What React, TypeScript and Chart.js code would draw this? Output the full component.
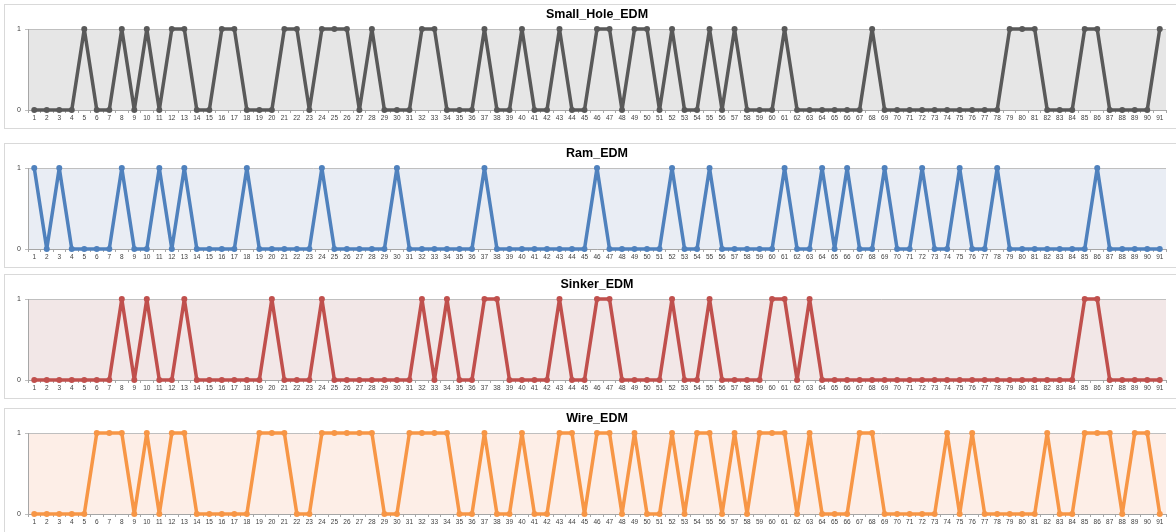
import React, { useEffect, useRef } from "react";
import { Chart, registerables } from "chart.js";
Chart.register(...registerables);

const categories = [
  "1","2","3","4","5","6","7","8","9","10","11","12","13","14","15","16","17","18","19","20",
  "21","22","23","24","25","26","27","28","29","30","31","32","33","34","35","36","37","38","39","40",
  "41","42","43","44","45","46","47","48","49","50","51","52","53","54","55","56","57","58","59","60",
  "61","62","63","64","65","66","67","68","69","70","71","72","73","74","75","76","77","78","79","80",
  "81","82","83","84","85","86","87","88","89","90","91",
];

const smallHoleEDM = [
  0,0,0,0,1,0,0,1,0,1, 0,1,1,0,0,1,1,0,0,0, 1,1,0,1,1,1,0,1,0,0, 0,1,1,0,0,0,1,0,0,1,
  0,0,1,0,0,1,1,0,1,1, 0,1,0,0,1,0,1,0,0,0, 1,0,0,0,0,0,0,1,0,0, 0,0,0,0,0,0,0,0,1,1,
  1,0,0,0,1,1,0,0,0,0, 1,
];
const ramEDM = [
  1,0,1,0,0,0,0,1,0,0, 1,0,1,0,0,0,0,1,0,0, 0,0,0,1,0,0,0,0,0,1, 0,0,0,0,0,0,1,0,0,0,
  0,0,0,0,0,1,0,0,0,0, 0,1,0,0,1,0,0,0,0,0, 1,0,0,1,0,1,0,0,1,0, 0,1,0,0,1,0,0,1,0,0,
  0,0,0,0,0,1,0,0,0,0, 0,
];
const sinkerEDM = [
  0,0,0,0,0,0,0,1,0,1, 0,0,1,0,0,0,0,0,0,1, 0,0,0,1,0,0,0,0,0,0, 0,1,0,1,0,0,1,1,0,0,
  0,0,1,0,0,1,1,0,0,0, 0,1,0,0,1,0,0,0,0,1, 1,0,1,0,0,0,0,0,0,0, 0,0,0,0,0,0,0,0,0,0,
  0,0,0,0,1,1,0,0,0,0, 0,
];
const wireEDM = [
  0,0,0,0,0,1,1,1,0,1, 0,1,1,0,0,0,0,0,1,1, 1,0,0,1,1,1,1,1,0,0, 1,1,1,1,0,0,1,0,0,1,
  0,0,1,1,0,1,1,0,1,0, 0,1,0,1,1,0,1,0,1,1, 1,0,1,0,0,0,1,1,0,0, 0,0,0,1,0,1,0,0,0,0,
  0,1,0,0,1,1,1,0,1,1, 0,
];
const yTicks = [0, 1];

const titles = ["Small_Hole_EDM", "Ram_EDM", "Sinker_EDM", "Wire_EDM"];
const seriesList = [smallHoleEDM, ramEDM, sinkerEDM, wireEDM];
const lineColors = ["#595959", "#4f81bd", "#c0504d", "#f79646"];
const plotBgs = ["#e6e6e6", "#e9edf4", "#f2e7e7", "#fdeee7"];
const panelTops = [4, 143, 274, 408];

const PANEL_W = 1180;
const PANEL_H = 125;
const CANVAS_W = 1171;
const CANVAS_H = 123;

function Panel({ idx }: { idx: number }) {
  const ref = useRef<HTMLCanvasElement | null>(null);
  useEffect(() => {
    if (!ref.current) return;
    const title = titles[idx];
    const bg = plotBgs[idx];
    const decor = {
      id: "decor" + idx,
      beforeDraw(chart: any) {
        const { ctx, chartArea } = chart;
        ctx.save();
        ctx.fillStyle = bg;
        ctx.fillRect(chartArea.left, chartArea.top, chartArea.right - chartArea.left, chartArea.bottom - chartArea.top);
        ctx.restore();
      },
      afterDraw(chart: any) {
        const { ctx, chartArea } = chart;
        ctx.save();
        ctx.fillStyle = "#000000";
        ctx.font = "bold 12.5px 'Liberation Sans', Arial, sans-serif";
        ctx.textAlign = "center";
        ctx.textBaseline = "middle";
        ctx.fillText(title, (chartArea.left + chartArea.right) / 2, 10);
        ctx.restore();
      },
    };
    const chart = new Chart(ref.current, {
      type: "line",
      data: {
        labels: categories,
        datasets: [
          {
            label: title,
            data: seriesList[idx],
            borderColor: lineColors[idx],
            backgroundColor: lineColors[idx],
            borderWidth: 3.5,
            borderJoinStyle: "round",
            borderCapStyle: "round",
            pointRadius: 3,
            pointHoverRadius: 3,
            pointBorderWidth: 0,
            tension: 0,
            fill: false,
            clip: false,
          },
        ],
      },
      options: {
        animation: false,
        responsive: false,
        maintainAspectRatio: false,
        events: [],
        layout: { padding: { top: 24, right: 10, left: 0, bottom: 0 } },
        plugins: {
          legend: { display: false },
          title: { display: false },
          tooltip: { enabled: false },
        },
        scales: {
          x: {
            type: "category",
            offset: true,
            afterFit(s: any) {
              s.height = 18;
            },
            grid: {
              display: true,
              offset: true,
              drawOnChartArea: false,
              drawTicks: true,
              tickLength: 3,
              color: "#a6a6a6",
            },
            border: { display: true, color: "#a6a6a6", width: 1 },
            ticks: {
              autoSkip: false,
              maxRotation: 0,
              minRotation: 0,
              padding: 1,
              color: "#404040",
              font: { size: 6.5, family: "'Liberation Sans', Arial, sans-serif" },
            },
          },
          y: {
            min: 0,
            max: 1,
            afterFit(s: any) {
              s.width = 23;
            },
            afterBuildTicks(s: any) {
              s.ticks = yTicks.map((v) => ({ value: v }));
            },
            grid: {
              display: true,
              color: "#bfbfbf",
              drawTicks: true,
              tickLength: 3,
              lineWidth: 1,
            },
            border: { display: true, color: "#a6a6a6", width: 1 },
            ticks: {
              padding: 4,
              color: "#404040",
              font: { size: 7, family: "'Liberation Sans', Arial, sans-serif" },
            },
          },
        },
      },
      plugins: [decor],
    } as any);
    return () => chart.destroy();
  }, [idx]);

  return (
    <div
      style={{
        position: "absolute",
        left: 4,
        top: panelTops[idx],
        width: PANEL_W,
        height: PANEL_H,
        border: "1px solid #d9d9d9",
        boxSizing: "border-box",
        background: "#ffffff",
      }}
    >
      <canvas
        ref={ref}
        width={CANVAS_W}
        height={CANVAS_H}
        style={{ position: "absolute", left: 0, top: 0, width: CANVAS_W, height: CANVAS_H }}
      />
    </div>
  );
}

export default function App() {
  return (
    <div
      style={{
        position: "absolute",
        left: 0,
        top: 0,
        width: 1176,
        height: 532,
        overflow: "hidden",
        background: "#ffffff",
      }}
    >
      {[0, 1, 2, 3].map((i) => (
        <Panel key={i} idx={i} />
      ))}
    </div>
  );
}
